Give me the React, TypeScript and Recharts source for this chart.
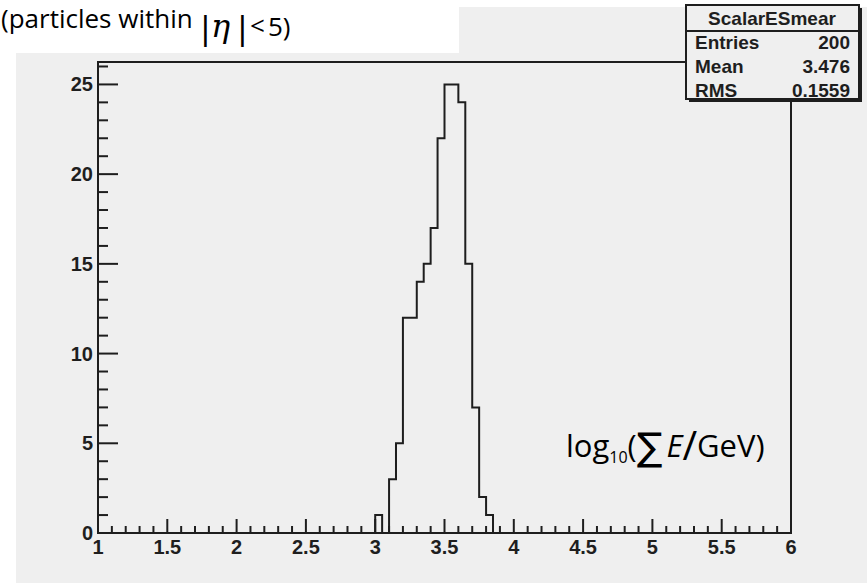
import React from 'react';
import { LineChart, Line, XAxis, YAxis, ReferenceArea } from 'recharts';

// histogram outline: bin low edges (width 0.05) and entries, zero outside 3.0–3.85
const binEdges = [1, 3.0, 3.05, 3.1, 3.15, 3.2, 3.25, 3.3, 3.35, 3.4, 3.45, 3.5, 3.55, 3.6, 3.65, 3.7, 3.75, 3.8, 3.85, 6];
const binCounts = [0, 1, 0, 3, 5, 12, 12, 14, 15, 17, 22, 25, 25, 24, 15, 7, 2, 1, 0, 0];

const xMajorTicks = [1, 1.5, 2, 2.5, 3, 3.5, 4, 4.5, 5, 5.5, 6];
const xMajorLabels = ['1', '1.5', '2', '2.5', '3', '3.5', '4', '4.5', '5', '5.5', '6'];
const yMajorTicks = [0, 5, 10, 15, 20, 25];
const yMajorLabels = ['0', '5', '10', '15', '20', '25'];

const statsTitle = 'ScalarESmear';
const statsNames = ['Entries', 'Mean', 'RMS'];
const statsValues = ['200', '3.476', '0.1559'];

const W = 867;
const H = 583;
const BG = '#efefef';
const INK = '#1e1e1e';
const TICK_FONT = '"Liberation Sans", Arial, sans-serif';
const TEXT_FONT = '"Open Sans", sans-serif';
const MATH_FONT = '"DejaVu Serif", serif';

const data = binEdges.map((x, i) => ({ x, count: binCounts[i] }));

// minor ticks every 0.1 on x and every 1 on y
const xTicks: number[] = [];
for (let i = 0; i <= 50; i++) xTicks.push(Math.round((1 + i * 0.1) * 10) / 10);
const yTicks: number[] = [];
for (let i = 0; i <= 26; i++) yTicks.push(i);

const findMajor = (list: number[], v: number) => list.findIndex((m) => Math.abs(m - v) < 1e-6);

const XTick = (props: any) => {
  const { x, y, payload } = props;
  const idx = findMajor(xMajorTicks, payload.value);
  const major = idx >= 0;
  return (
    <g>
      <line x1={x} x2={x} y1={y} y2={y - (major ? 14 : 7)} stroke={INK} strokeWidth={2} />
      {major && (
        <text x={x} y={y + 21} textAnchor="middle" fontFamily={TICK_FONT} fontWeight="bold" fontSize={20} fill={INK}>
          {xMajorLabels[idx]}
        </text>
      )}
    </g>
  );
};

const YTick = (props: any) => {
  const { x, y, payload } = props;
  const idx = findMajor(yMajorTicks, payload.value);
  const major = idx >= 0;
  return (
    <g>
      <line x1={x} x2={x + (major ? 20 : 10)} y1={y} y2={y} stroke={INK} strokeWidth={2} />
      {major && (
        <text x={x - 5} y={y + 7} textAnchor="end" fontFamily={TICK_FONT} fontWeight="bold" fontSize={20} fill={INK}>
          {yMajorLabels[idx]}
        </text>
      )}
    </g>
  );
};

const Overlay = () => (
  <svg width={W} height={H} style={{ position: 'absolute', left: 0, top: 0, pointerEvents: 'none' }}>
    {/* title pasted in a white box */}
    <rect x={0} y={0} width={459} height={53} fill="#fff" />
    <text x={1} y={28} fontFamily={TEXT_FONT} fontSize={26} fill="#000">
      (particles within
    </text>
    <text x={200} y={39} fontFamily={MATH_FONT} fontSize={32} fill="#000">|</text>
    <text x={211} y={37} fontFamily={MATH_FONT} fontStyle="italic" fontSize={32} fill="#000">η</text>
    <text x={237} y={39} fontFamily={MATH_FONT} fontSize={32} fill="#000">|</text>
    <text x={250} y={35} fontFamily={TEXT_FONT} fontSize={26} fill="#000">&lt;</text>
    <text x={268} y={36} fontFamily={TEXT_FONT} fontSize={26} fill="#000">5)</text>

    {/* axis title */}
    <text x={566} y={457} fontFamily={TEXT_FONT} fontSize={31} fill="#000">
      <tspan>log</tspan>
      <tspan fontSize={16} dy={6}>10</tspan>
      <tspan dy={-6}>(</tspan>
      <tspan fontFamily='"DejaVu Sans", sans-serif' fontSize={38} dy={3}>∑</tspan>
      <tspan fontStyle="italic" dx={4} dy={-3}>E</tspan>
      <tspan fontSize={40} dy={3}>/</tspan>
      <tspan dy={-3}>GeV)</tspan>
    </text>

    {/* stats box */}
    <rect x={689} y={8} width={173} height={94} fill={INK} />
    <rect x={686} y={5} width={173} height={94} fill={BG} stroke={INK} strokeWidth={2} />
    <line x1={686} x2={859} y1={31} y2={31} stroke={INK} strokeWidth={2} />
    <text x={772} y={25} textAnchor="middle" fontFamily={TICK_FONT} fontWeight="bold" fontSize={19} fill={INK}>
      {statsTitle}
    </text>
    {statsNames.map((name, i) => (
      <g key={name}>
        <text x={695} y={49 + i * 24} fontFamily={TICK_FONT} fontWeight="bold" fontSize={19} fill={INK}>
          {name}
        </text>
        <text x={850} y={49 + i * 24} textAnchor="end" fontFamily={TICK_FONT} fontWeight="bold" fontSize={19} fill={INK}>
          {statsValues[i]}
        </text>
      </g>
    ))}
  </svg>
);

export default function App() {
  return (
    <div style={{ position: 'absolute', left: 0, top: 0, width: W, height: H, background: '#fff', overflow: 'hidden' }}>
      <div style={{ position: 'absolute', left: 16, top: 7, right: 0, bottom: 0, background: BG }} />
      <div style={{ position: 'absolute', left: 0, top: 0 }}>
        <LineChart width={W} height={H} data={data} margin={{ top: 62, right: 76, bottom: 0, left: 0 }}>
          <XAxis
            type="number"
            dataKey="x"
            domain={[1, 6]}
            ticks={xTicks}
            interval={0}
            allowDataOverflow
            height={50}
            tickSize={0}
            tickMargin={0}
            tickLine={false}
            axisLine={{ stroke: INK, strokeWidth: 2 }}
            tick={<XTick />}
          />
          <YAxis
            type="number"
            domain={[0, 26.25]}
            ticks={yTicks}
            interval={0}
            allowDataOverflow
            width={98}
            tickSize={0}
            tickMargin={0}
            tickLine={false}
            axisLine={{ stroke: INK, strokeWidth: 2 }}
            tick={<YTick />}
          />
          <ReferenceArea x1={1} x2={6} y1={0} y2={26.25} fill="none" stroke={INK} strokeWidth={2} fillOpacity={0} />
          <Line
            type="stepAfter"
            dataKey="count"
            stroke={INK}
            strokeWidth={2}
            dot={false}
            activeDot={false}
            isAnimationActive={false}
          />
        </LineChart>
      </div>
      <Overlay />
    </div>
  );
}
